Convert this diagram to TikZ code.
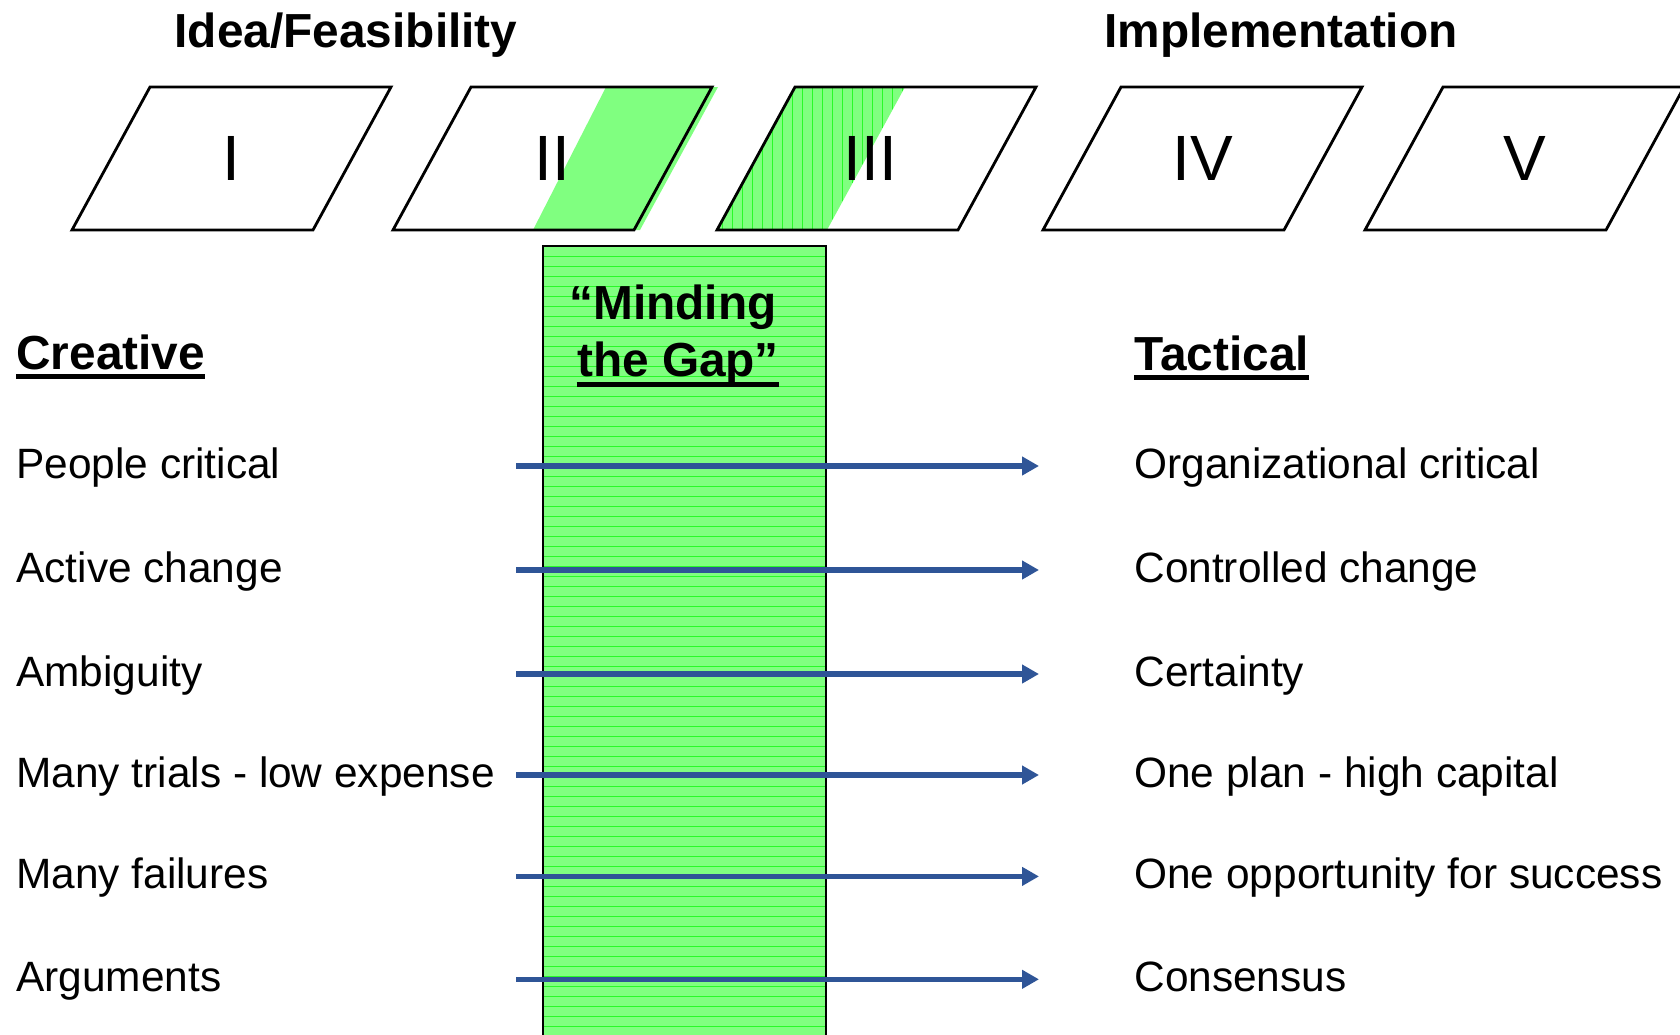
\documentclass[tikz,border=0pt]{standalone}
\usepackage{fontspec}
\setmainfont{Liberation Sans}
\usetikzlibrary{arrows.meta}
\definecolor{arrowblue}{RGB}{47,85,151}
\definecolor{lightgreen}{RGB}{128,255,128}
\definecolor{linegreen}{RGB}{40,250,40}
\begin{document}
\begin{tikzpicture}[x=0.5pt,y=-0.5pt,
  body/.style={font=\fontsize{21.2}{25}\selectfont, inner sep=0pt, anchor=base west},
  head/.style={font=\fontsize{23.9}{28}\selectfont\bfseries, inner sep=0pt},
  numeral/.style={font=\fontsize{32}{36}\selectfont, inner sep=0pt},
  pgram/.style={draw=black, line width=1.4pt, line join=miter},
  greenfill/.style={fill=lightgreen, draw=none},
  hatch/.style={draw=linegreen, line width=0.4pt},
  gaparrow/.style={draw=arrowblue, line width=2.8pt, -{Triangle[length=8.5pt,width=9pt]}},
  uline/.style={line width=2.5pt, draw=black}]
\useasboundingbox (0,0) rectangle (1680,1034);
\clip (0,0) rectangle (1680,1034);

% titles
\node[head, anchor=base] (t1) at (346,47) {Idea/Feasibility};
\node[head, anchor=base] (t2) at (1281,47) {Implementation};

% green strips in II and III
\path[greenfill] (533,230) -- (640,230) -- (718,87) -- (606,87) -- cycle;
\begin{scope}
  \clip (717,230) -- (827,230) -- (905,87) -- (795,87) -- cycle;
  \fill[lightgreen] (700,80) rectangle (910,235);
  \foreach \x in {722,732,...,912} \draw[hatch] (\x,80) -- (\x,235);
\end{scope}

% parallelograms
\foreach \tl/\lab/\nm/\dx in {150/I/p1/0, 471/II/p2/0, 795/III/p3/-6, 1121/IV/p4/0, 1443/V/p5/0}{
  \draw[pgram] (\tl,87) -- ({\tl+241},87) -- ({\tl+241-78},230) -- ({\tl-78},230) -- cycle;
  \node[numeral] (\nm) at ({\tl+81.5+\dx},158.5) {\lab};
}

% the gap column
\fill[lightgreen] (543,246) rectangle (826,1040);
\foreach \y in {256,266,...,1036} \draw[hatch] (543,\y) -- (826,\y);
\draw[line width=1.4pt] (543,1040) -- (543,246) -- (826,246) -- (826,1040);

\node[head, anchor=base] (gap1) at (673,319) {“Minding};
\node[head, anchor=base] (gap2) at (678,376) {the Gap”};
\draw[uline] ([yshift=-4.4pt]gap2.base west) -- ([yshift=-4.4pt]gap2.base east);

% column headings
\node[head, anchor=base west] (hc) at (16,369) {Creative};
\node[head, anchor=base west] (ht) at (1134,370) {Tactical};
\draw[uline] ([yshift=-3.5pt]hc.base west) -- ([yshift=-3.5pt]hc.base east);
\draw[uline] ([yshift=-3.5pt]ht.base west) -- ([yshift=-3.5pt]ht.base east);

% rows
\foreach \i/\y/\ltxt/\rtxt in {
  1/466/People critical/Organizational critical,
  2/570/Active change/Controlled change,
  3/674/Ambiguity/Certainty,
  4/775/Many trials - low expense/One plan - high capital,
  5/876.4/Many failures/One opportunity for success,
  6/979.3/Arguments/Consensus}{
  \node[body] (l\i) at (16,{\y+12.5}) {\ltxt};
  \node[body] (r\i) at (1134,{\y+12.5}) {\rtxt};
  \coordinate (s\i) at (516,\y);
  \coordinate (e\i) at (1039,\y);
  \draw[gaparrow] (s\i) -- (e\i);
}
\end{tikzpicture}
\end{document}
